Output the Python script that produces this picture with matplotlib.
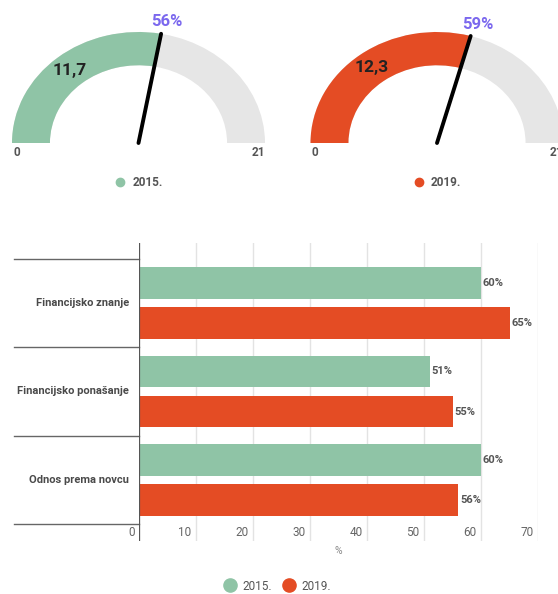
import numpy as np
import matplotlib.pyplot as plt
from matplotlib.patches import Wedge
from matplotlib.lines import Line2D
from matplotlib import transforms

plt.rcParams['font.family'] = ['Roboto', 'DejaVu Sans']

# data
years = ['2015.', '2019.']
gauge_values = [11.7, 12.3]
gauge_max = 21
categories = ['Financijsko znanje', 'Financijsko ponašanje', 'Odnos prema novcu']
vals_2015 = [60, 51, 60]
vals_2019 = [65, 55, 56]
xticks = [0, 10, 20, 30, 40, 50, 60, 70]

green = '#8fc4a6'
red = '#e44c24'
grey = '#e6e6e6'
purple = '#7b68ee'

W, H = 558, 594
fig = plt.figure(figsize=(W / 100, H / 100), dpi=100)


def px_axes(x0, y0, x1, y1):
    # axes from pixel box (top-left origin)
    return fig.add_axes([x0 / W, 1 - y1 / H, (x1 - x0) / W, (y1 - y0) / H])


# ---- gauges ----
rx, ry = 126.5, 111.0
centres = [(138.5, 143), (437, 143)]
boxes = [(0, 279), (279, 558)]
colors = [green, red]

for i in range(2):
    cx, cy = centres[i]
    bx0, bx1 = boxes[i]
    ax = px_axes(bx0, 0, bx1, 200)
    ax.set_xlim((bx0 - cx) / rx, (bx1 - cx) / rx)
    ax.set_ylim((cy - 200) / ry, cy / ry)
    ax.axis('off')

    v = gauge_values[i]
    frac = v / gauge_max
    ang = 180 * (1 - frac)
    ax.add_patch(Wedge((0, 0), 1, 0, 180, width=0.3, facecolor=grey, edgecolor='none'))
    ax.add_patch(Wedge((0, 0), 1, ang, 180, width=0.3, facecolor=colors[i], edgecolor='none'))

    t = np.radians(ang)
    ax.plot([0, np.cos(t)], [0, np.sin(t)], color='black', lw=2.8, solid_capstyle='round', zorder=5)

    mid = np.radians((ang + 180) / 2)
    ax.text(0.85 * np.cos(mid), 0.85 * np.sin(mid), f'{v:.1f}'.replace('.', ','),
            ha='center', va='center', fontsize=12.5, fontweight='bold', color='#222222')
    ax.text(1.13 * np.cos(t) + 0.02, 1.11 * np.sin(t), f'{round(frac * 100)}%',
            ha='center', va='center', fontsize=12, fontweight='bold', color=purple)
    ax.text(-0.99, -0.09, '0', ha='left', va='center', fontsize=8.5, fontweight='bold',
            color='#555555', clip_on=False)
    ax.text(1.0, -0.09, str(gauge_max), ha='right', va='center', fontsize=8.5, fontweight='bold',
            color='#555555', clip_on=False)

    h = Line2D([], [], marker='o', ls='', color=colors[i], markersize=6)
    lg = ax.legend([h], [years[i]], loc='center', bbox_to_anchor=(0, (cy - 183) / ry),
                   bbox_transform=ax.transData, frameon=False, fontsize=8.5,
                   handletextpad=0.5, handlelength=1.0)
    for tx in lg.get_texts():
        tx.set_color('#555555')
        tx.set_fontweight('bold')

# ---- bar chart ----
ax = px_axes(139, 243, 538, 541)
band = 88.3
y0 = -0.5 - (259 - 243) / band
y1 = 2.5 + (541 - 524) / band
ax.set_xlim(0, 70)
ax.set_ylim(y1, y0)

y = np.arange(len(categories))
bh = 0.36
off = 0.227
ax.barh(y - off, vals_2015, height=bh, color=green, zorder=3)
ax.barh(y + off, vals_2019, height=bh, color=red, zorder=3)

for yi, v in zip(y - off, vals_2015):
    ax.text(v + 0.3, yi, f'{v}%', va='center', ha='left', fontsize=8, fontweight='bold', color='#555555')
for yi, v in zip(y + off, vals_2019):
    ax.text(v + 0.3, yi, f'{v}%', va='center', ha='left', fontsize=8, fontweight='bold', color='#555555')

for s in ax.spines.values():
    s.set_visible(False)
ax.set_xticks(xticks)
ax.tick_params(length=0, labelbottom=False, labelleft=False)
ax.set_yticks([])
ax.grid(axis='x', color='#e3e3e3', lw=1, zorder=0)
ax.axvline(0, color='#555555', lw=1.6, zorder=4)

for tk in xticks:
    ax.text(tk - 0.8, 2.60, str(tk), ha='right', va='center', fontsize=8.5, color='#666666')
ax.text(35, 2.60 + 18 / band, '%', ha='center', va='center', fontsize=7.5, color='#888888', clip_on=False)

# category separators and labels to the left of the axis
tr = transforms.blended_transform_factory(fig.transFigure, ax.transData)
for s in np.arange(-0.5, len(categories), 1):
    ax.add_line(Line2D([14 / W, 139 / W], [s, s], transform=tr, color='#666666', lw=1, clip_on=False))
for yi, c in zip(y, categories):
    ax.text(129 / W, yi, c, transform=tr, ha='right', va='center', fontsize=8,
            fontweight='bold', color='#4a4a4a')

# bottom legend
hs = [Line2D([], [], marker='o', ls='', color=col, markersize=9.5) for col in colors]
lg = fig.legend(hs, years, loc='center', bbox_to_anchor=(277 / W, 1 - 586 / H), ncol=2,
                frameon=False, fontsize=8.5, handletextpad=0.5, columnspacing=0.8,
                handlelength=1.2)
for tx in lg.get_texts():
    tx.set_color('#555555')

fig.savefig('out.png', dpi=100)
